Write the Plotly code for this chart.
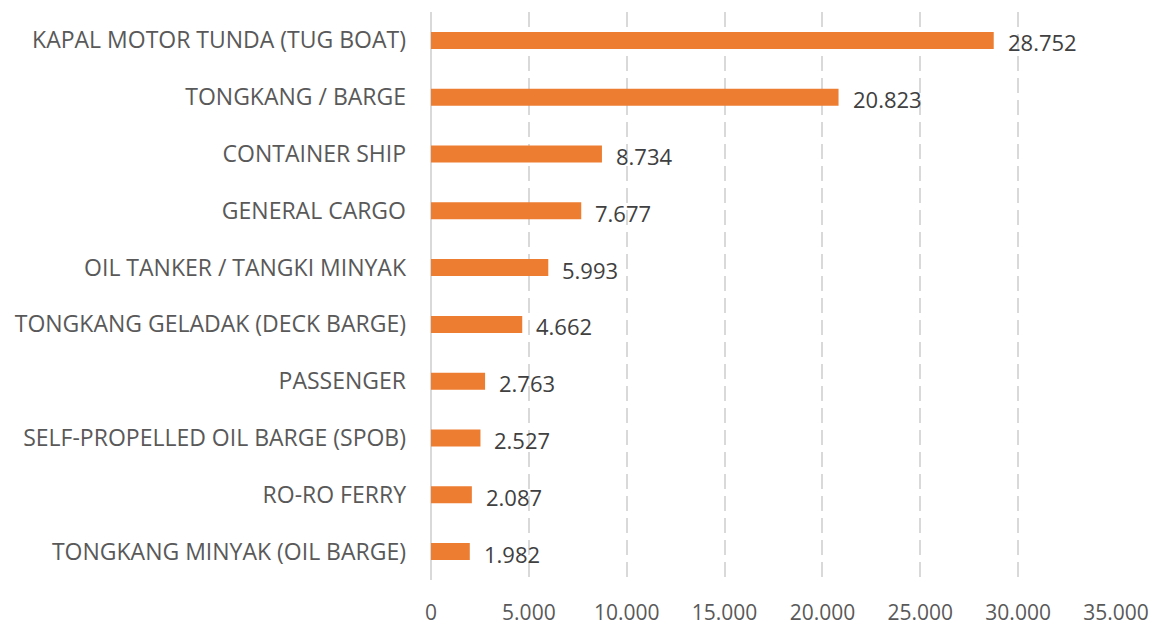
import plotly.graph_objects as go

categories = [
    "KAPAL MOTOR TUNDA (TUG BOAT)",
    "TONGKANG / BARGE",
    "CONTAINER SHIP",
    "GENERAL CARGO",
    "OIL TANKER / TANGKI MINYAK",
    "TONGKANG GELADAK (DECK BARGE)",
    "PASSENGER",
    "SELF-PROPELLED OIL BARGE (SPOB)",
    "RO-RO FERRY",
    "TONGKANG MINYAK (OIL BARGE)",
]
values = [28752, 20823, 8734, 7677, 5993, 4662, 2763, 2527, 2087, 1982]
tick_vals = [0, 5000, 10000, 15000, 20000, 25000, 30000, 35000]
tick_text = ["0", "5.000", "10.000", "15.000", "20.000", "25.000", "30.000", "35.000"]


def fmt(v):
    return f"{v:,}".replace(",", ".")


font = "Open Sans"

fig = go.Figure(
    go.Bar(
        x=values,
        y=categories,
        orientation="h",
        width=0.3,
        marker=dict(color="#ED7D31", line=dict(width=0)),
        cliponaxis=False,
    )
)

for cat, v in zip(categories, values):
    fig.add_annotation(
        x=v,
        y=cat,
        text=fmt(v),
        showarrow=False,
        xanchor="left",
        yanchor="middle",
        xshift=12,
        yshift=-2,
        font=dict(family=font, size=22, color="#404040"),
    )

fig.update_layout(
    width=1149,
    height=620,
    margin=dict(l=423, r=41, t=4, b=48),
    paper_bgcolor="white",
    plot_bgcolor="white",
    showlegend=False,
    font=dict(family=font, color="#595959"),
)

fig.update_xaxes(
    range=[0, 35000],
    tickvals=tick_vals,
    ticktext=tick_text,
    tickfont=dict(family=font, size=21, color="#595959"),
    showgrid=True,
    gridcolor="#D9D9D9",
    gridwidth=1.5,
    griddash="15px,7px",
    zeroline=True,
    zerolinecolor="#D9D9D9",
    zerolinewidth=2,
    showline=False,
    ticks="",
    ticklabelstandoff=18,
    automargin=False,
)

fig.update_yaxes(
    autorange="reversed",
    tickfont=dict(family=font, size=23, color="#595959"),
    showgrid=False,
    showline=False,
    ticks="",
    ticklabelstandoff=24,
    automargin=False,
)

fig.write_html("out.html")
